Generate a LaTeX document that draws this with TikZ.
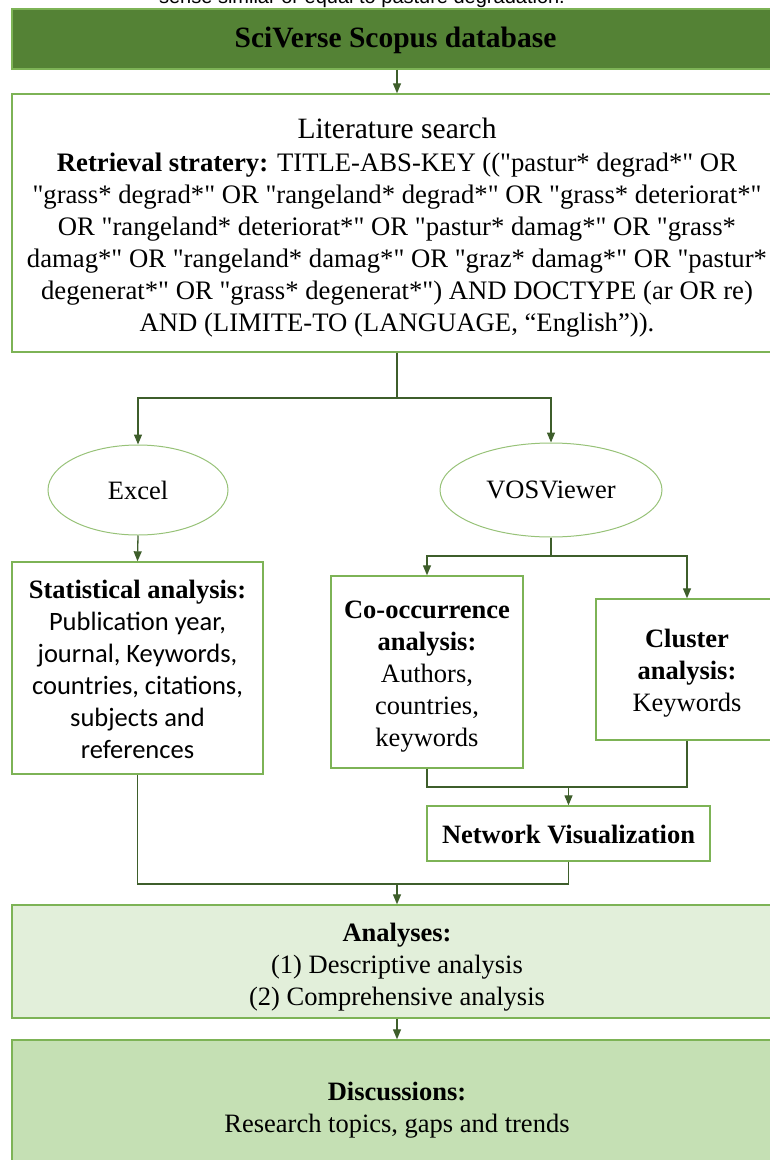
\documentclass[tikz,border=0pt]{standalone}
\usepackage{fontspec}
\setmainfont{Liberation Serif}[Ligatures=TeXOff]
\newfontfamily\calib{Carlito}
\newfontfamily\arialf{Liberation Sans}
\usetikzlibrary{arrows.meta,shapes.geometric}
\definecolor{darkg}{HTML}{548235}
\definecolor{edgeg}{HTML}{7DB356}
\definecolor{lineg}{HTML}{3E5E2B}
\definecolor{anafill}{HTML}{E2EFDA}
\definecolor{discfill}{HTML}{C5E0B4}
\tikzset{
  box/.style={draw=edgeg, line width=1.4pt, fill=white, inner sep=0pt},
  txt/.style={inner sep=0pt, align=center, font=\fontsize{26.5}{32}\selectfont},
  oval/.style={ellipse, draw=edgeg!80, line width=1pt, inner sep=0pt,
    font=\fontsize{26.5}{32}\selectfont},
  conn/.style={draw=lineg, line width=1.3pt},
  arr/.style={conn, -{Triangle[length=10pt,width=8pt]}},
}
\begin{document}
\begin{tikzpicture}[x=1pt,y=-1pt]
\useasboundingbox (0,0) rectangle (770,1160);
\clip (0,0) rectangle (770,1160);
\node[font=\arialf\fontsize{20}{22}\selectfont, anchor=base] (cap) at (362,3) {sense similar or equal to pasture degradation.};
% boxes
\node[box, fill=darkg, minimum width=770pt, minimum height=60pt] (top) at (397,39) {};
\node[box, minimum width=770pt, minimum height=258pt] (lit) at (397,223) {};
\node[oval, minimum width=180pt, minimum height=90pt] (excel) at (138,490) {Excel};
\node[oval, minimum width=222pt, minimum height=94pt] (vos) at (551,490) {VOSViewer};
\node[box, minimum width=251pt, minimum height=212pt] (stat) at (137.5,668) {};
\node[box, minimum width=192pt, minimum height=192pt] (cooc) at (427,672) {};
\node[box, minimum width=182pt, minimum height=141pt] (clus) at (687,669.5) {};
\node[box, minimum width=283pt, minimum height=55pt] (net) at (568.5,833.5) {};
\node[box, fill=anafill, minimum width=770pt, minimum height=113pt] (ana) at (397,961.5) {};
\node[box, fill=discfill, minimum width=770pt, minimum height=132pt] (disc) at (397,1106) {};
% texts
\node[txt, font=\bfseries\fontsize{29.5}{34}\selectfont] (topT) at (395.5,40.5) {SciVerse Scopus database};
\node[txt, font=\fontsize{26.7}{32}\selectfont] (litT) at (397,228)
  {{\fontsize{29.5}{34}\selectfont Literature search}\\[1pt]
   \textbf{Retrieval stratery:} TITLE-ABS-KEY (("pastur* degrad*" OR\\
   "grass* degrad*" OR "rangeland* degrad*" OR "grass* deteriorat*"\\
   OR "rangeland* deteriorat*" OR "pastur* damag*" OR "grass*\\
   damag*" OR "rangeland* damag*" OR "graz* damag*" OR "pastur*\\
   degenerat*" OR "grass* degenerat*") AND DOCTYPE (ar OR re)\\
   AND (LIMITE-TO (LANGUAGE, “English”)).};
\node[txt] (statT) at (137.5,669.5)
  {\textbf{Statistical analysis:}\\
   {\calib Publication year,}\\
   {\calib journal, Keywords,}\\
   {\calib countries, citations,}\\
   {\calib subjects and}\\
   {\calib references}};
\node[txt] (coocT) at (427,676.5)
  {\textbf{Co-occurrence}\\ \textbf{analysis:}\\ Authors,\\ countries,\\ keywords};
\node[txt] (clusT) at (687,673.5)
  {\textbf{Cluster}\\ \textbf{analysis:}\\ Keywords};
\node[txt] (netT) at (568.5,834.5) {\textbf{Network Visualization}};
\node[txt] (anaT) at (397,967.5)
  {\textbf{Analyses:}\\ (1) Descriptive analysis\\ (2) Comprehensive analysis};
\node[txt] (discT) at (397,1110)
  {\textbf{Discussions:}\\ Research topics, gaps and trends};
% connectors
\coordinate (j1) at (397,398);
\coordinate (j2) at (551,556);
\coordinate (j3) at (568.5,787);
\coordinate (j4) at (397,884);
\draw[arr] (top.south) -- (lit.north);
\draw[conn] (lit.south) -- (j1);
\draw[arr] (j1) -| (excel.north);
\draw[arr] (j1) -| (vos.north);
\draw[arr] (excel.south) -- (stat.north);
\draw[conn] (vos.south) -- (j2);
\draw[arr] (j2) -| (cooc.north);
\draw[arr] (j2) -| (clus.north);
\draw[conn] (cooc.south) |- (j3);
\draw[conn] (clus.south) |- (j3);
\draw[arr] (j3) -- (net.north);
\draw[conn] (stat.south) |- (j4);
\draw[conn] (net.south) |- (j4);
\draw[arr] (j4) -- (ana.north);
\draw[arr] (ana.south) -- (disc.north);
\end{tikzpicture}
\end{document}
